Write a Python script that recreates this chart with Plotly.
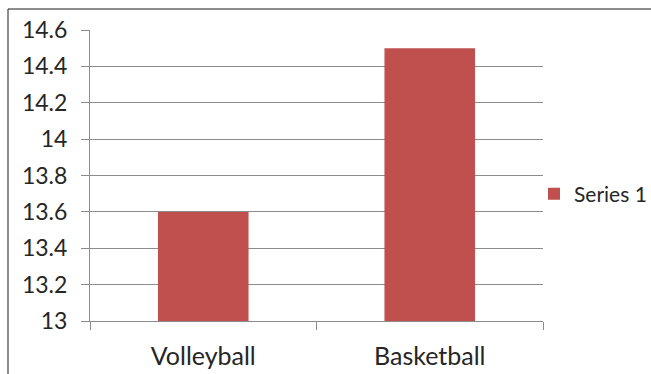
import plotly.graph_objects as go

categories = ["Volleyball", "Basketball"]
values = [13.6, 14.5]
series_name = "Series 1"
y_tickvals = [13, 13.2, 13.4, 13.6, 13.8, 14, 14.2, 14.4, 14.6]
y_ticktext = ["13", "13.2", "13.4", "13.6", "13.8", "14", "14.2", "14.4", "14.6"]

W, H = 651, 374
L, R, T, B = 90, 108, 30, 53
pw, ph = W - L - R, H - T - B

fig = go.Figure()
fig.add_trace(go.Bar(x=categories, y=values, name=series_name,
                     marker=dict(color="#C0504D", line=dict(width=0)),
                     showlegend=True))

fam = "Lato, 'Open Sans', sans-serif"
col = "#262626"

fig.update_layout(
    width=W, height=H,
    margin=dict(l=L, r=R, t=T, b=B, pad=0, autoexpand=False),
    paper_bgcolor="white", plot_bgcolor="white",
    bargap=0.6,
    font=dict(family=fam, size=21, color=col),
    showlegend=True,
    legend=dict(x=(534 - L) / pw, y=(H - B - 194) / ph, xanchor="left", yanchor="middle",
                bgcolor="rgba(0,0,0,0)", font=dict(family=fam, size=21, color=col)),
    xaxis=dict(type="category", showgrid=False, showline=True, linecolor="#8c8c8c",
               linewidth=1, ticks="outside", ticklen=8, tickcolor="#8c8c8c",
               tickson="boundaries", ticklabelstandoff=13,
               tickfont=dict(family=fam, size=25, color=col)),
    yaxis=dict(range=[13, 14.6], tickvals=y_tickvals, ticktext=y_ticktext,
               showgrid=True, gridcolor="#8c8c8c", gridwidth=1,
               showline=True, linecolor="#8c8c8c", linewidth=1,
               ticks="outside", ticklen=8, tickcolor="#8c8c8c",
               ticklabelstandoff=9, zeroline=False,
               tickfont=dict(family=fam, size=23, color=col)),
    shapes=[dict(type="rect", xref="paper", yref="paper",
                 x0=(8 - L) / pw, x1=1.5, y0=-0.5, y1=(H - B - 9) / ph,
                 line=dict(color="#1a1a1a", width=1), fillcolor="rgba(0,0,0,0)",
                 layer="below")],
)

fig.write_html("out.html")
